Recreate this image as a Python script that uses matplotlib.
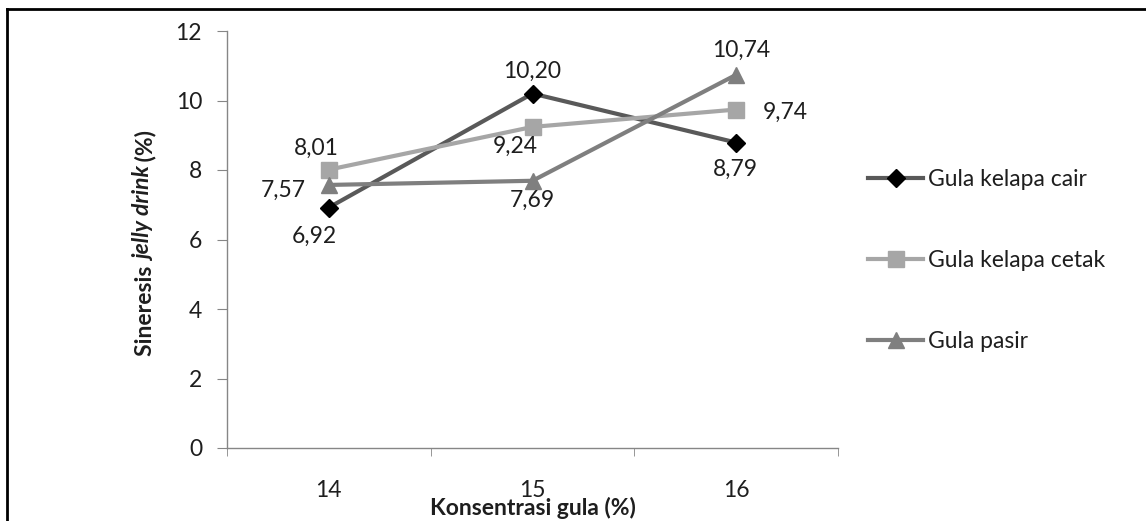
import matplotlib
matplotlib.use("Agg")
import matplotlib.pyplot as plt
from matplotlib.lines import Line2D

plt.rcParams['font.family'] = ['Lato', 'DejaVu Sans']

konsentrasi = [14, 15, 16]
tick_labels = ['14', '15', '16']
cair = [6.92, 10.20, 8.79]
cetak = [8.01, 9.24, 9.74]
pasir = [7.57, 7.69, 10.74]
series_names = ['Gula kelapa cair', 'Gula kelapa cetak', 'Gula pasir']

txt = '#1e1e1e'
fs = 16.5
fig = plt.figure(figsize=(11.46, 5.21), dpi=100)
ax = fig.add_axes([227 / 1146, 1 - 448 / 521, (838 - 227) / 1146, (448 - 31) / 521])

l1, = ax.plot(konsentrasi, cair, color='#595959', lw=3, marker='D', ms=9,
              mfc='black', mec='black', label=series_names[0])
l2, = ax.plot(konsentrasi, cetak, color='#a6a6a6', lw=3, marker='s', ms=12,
              mfc='#a6a6a6', mec='#a6a6a6', label=series_names[1])
l3, = ax.plot(konsentrasi, pasir, color='#7f7f7f', lw=3, marker='^', ms=12,
              mfc='#7f7f7f', mec='#7f7f7f', label=series_names[2])

# label offsets in pixels (x, y up)
off_cair = [(-15, -29), (0, 22), (-1, -27)]
off_cetak = [(-13, 21), (-17, -19), (49, -3)]
off_pasir = [(-46, -5), (0, -20), (5, 24)]
for vals, offs in [(cair, off_cair), (cetak, off_cetak), (pasir, off_pasir)]:
    for x, v, o in zip(konsentrasi, vals, offs):
        ax.annotate(('%.2f' % v).replace('.', ','), (x, v), xytext=o,
                    textcoords='offset pixels', ha='center', va='center',
                    fontsize=fs, color=txt)

ax.set_xlim(13.5, 16.5)
ax.set_ylim(0, 12)
ax.set_yticks(range(0, 13, 2))
ax.set_xticks(konsentrasi)
ax.set_xticklabels(tick_labels)
ax.set_xticks([13.5, 14.5, 15.5, 16.5], minor=True)
ax.tick_params(axis='x', which='major', length=0, pad=23, labelsize=fs, labelcolor=txt)
ax.tick_params(axis='x', which='minor', length=6, color='#868686', direction='out')
ax.tick_params(axis='y', length=7, pad=11, color='#868686', labelsize=fs, labelcolor=txt)
for s in ['top', 'right']:
    ax.spines[s].set_visible(False)
for s in ['left', 'bottom']:
    ax.spines[s].set_color('#868686')
    ax.spines[s].set_linewidth(1)

fig.text(533 / 1146, 1 - 508 / 521, 'Konsentrasi gula (%)', ha='center', va='center',
         fontsize=fs, fontweight='bold', color=txt)

# y label in pieces: bold + bold italic, centred around y=243 px
renderer = fig.canvas.get_renderer()
pieces = [('Sineresis ', 'normal'), ('jelly drink', 'italic'), (' (%)', 'normal')]
texts = []
y_pos = 0.0
for piece, style in pieces:
    t = fig.text(145 / 1146, y_pos, piece, rotation=90, ha='center', va='bottom',
                 fontsize=fs, fontweight='bold', fontstyle=style, color=txt)
    bb = t.get_window_extent(renderer)
    texts.append((t, y_pos))
    y_pos = bb.y1 / fig.bbox.height
shift = (1 - 243 / 521) - y_pos / 2
for t, y0 in texts:
    t.set_y(y0 + shift)

leg = fig.legend(handles=[l1, l2, l3], loc='upper left',
                 bbox_to_anchor=(859 / 1146, 1 - 160 / 521), frameon=False,
                 borderaxespad=0, fontsize=fs, labelspacing=2.62, handlelength=2.4,
                 handletextpad=0.22, labelcolor=txt)

# outer frame (left and top edges)
fig.add_artist(Line2D([7 / 1146, 7 / 1146], [0, 1 - 9 / 521], color='black', lw=2,
                      transform=fig.transFigure))
fig.add_artist(Line2D([7 / 1146, 1], [1 - 9 / 521, 1 - 9 / 521], color='black', lw=2,
                      transform=fig.transFigure))

fig.savefig('out.png', dpi=100)
